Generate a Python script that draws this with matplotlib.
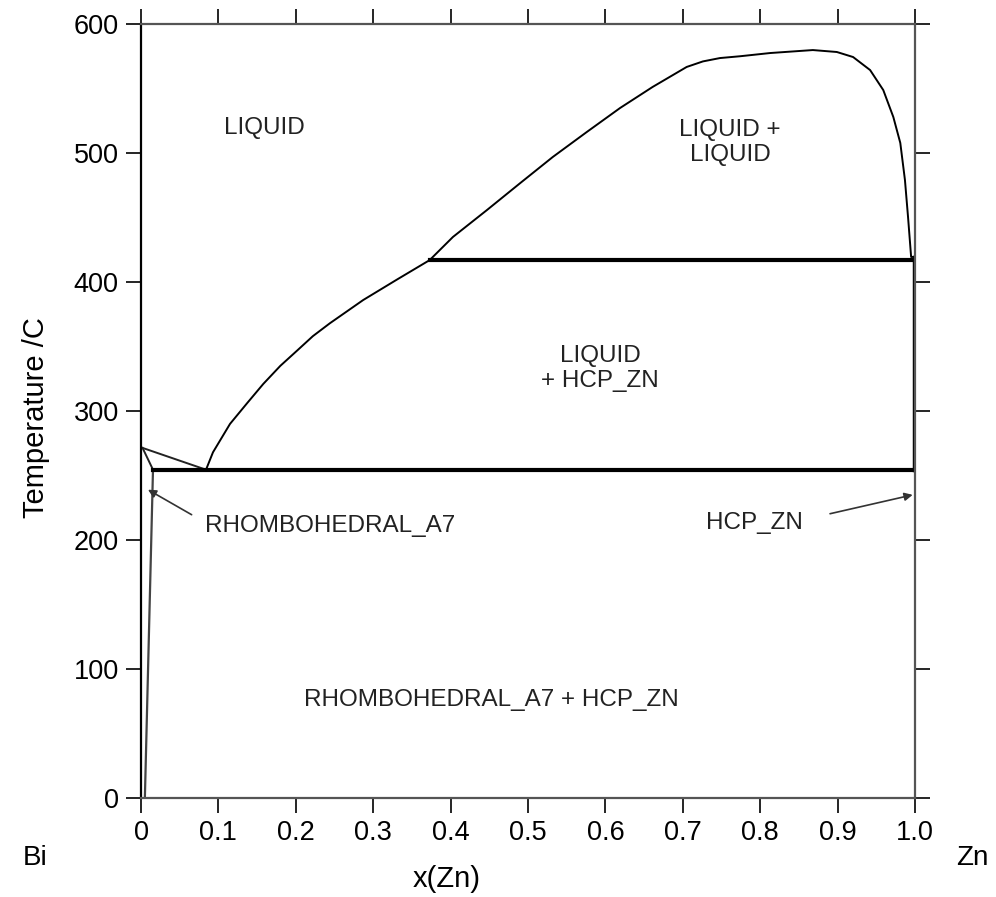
import matplotlib
matplotlib.use("Agg")
import matplotlib.pyplot as plt

plt.rcParams['font.family'] = ['Liberation Sans', 'DejaVu Sans']

# === datos del diagrama Bi-Zn ===
# liquidus del lado Zn (desde el eutectico hasta el monotectico)
liq_x = [0.084, 0.093, 0.115, 0.137, 0.158, 0.180, 0.202, 0.222, 0.244, 0.287, 0.331, 0.373]
liq_T = [254.5, 268, 290, 306, 321, 335, 347, 358, 368, 386, 402, 417]

# laguna de miscibilidad (LIQUID + LIQUID)
gap_x = [0.373, 0.403, 0.447, 0.490, 0.532, 0.576, 0.619, 0.661, 0.705, 0.726, 0.748, 0.774,
         0.813, 0.868, 0.899, 0.920, 0.942, 0.959, 0.972, 0.981, 0.987, 0.991, 0.995, 1.0]
gap_T = [417, 434.9, 455.8, 476.7, 496.9, 516.3, 534.9, 551.2, 566.7, 571, 573.6, 575,
         577.5, 579.8, 578.3, 574.4, 564.3, 548.8, 527.9, 507.8, 479.1, 450.4, 419.4, 419.5]

# lado Bi: liquidus, solidus y solvus
bi_liq_x = [0.002, 0.084]
bi_liq_T = [271.4, 254.5]
bi_sol_x = [0.002, 0.0155]
bi_sol_T = [271.4, 254.5]
bi_solv_x = [0.0155, 0.005]
bi_solv_T = [254.5, 0]

# isotermas invariantes
eut_x = [0.0155, 1.0]
eut_T = [254.5, 254.5]
mono_x = [0.373, 1.0]
mono_T = [417, 417]

# solvus HCP_ZN
zn_solv_x = [0.999, 0.999]
zn_solv_T = [419.5, 254.5]

xticks = [0, 0.1, 0.2, 0.3, 0.4, 0.5, 0.6, 0.7, 0.8, 0.9, 1.0]
xtick_labels = ["0", "0.1", "0.2", "0.3", "0.4", "0.5", "0.6", "0.7", "0.8", "0.9", "1.0"]
yticks = [0, 100, 200, 300, 400, 500, 600]

# === grafico ===
fig = plt.figure(figsize=(9.96, 8.97), dpi=100)
ax = fig.add_axes([141/996, 1 - 798/897, 774/996, 774/897])

ax.plot(liq_x, liq_T, color="black", lw=1.4)
ax.plot(gap_x, gap_T, color="black", lw=1.4)
ax.plot(bi_liq_x, bi_liq_T, color="#222222", lw=1.4)
ax.plot(bi_sol_x, bi_sol_T, color="#222222", lw=1.4)
ax.plot(bi_solv_x, bi_solv_T, color="#444444", lw=1.6)
ax.plot(eut_x, eut_T, color="black", lw=3)
ax.plot(mono_x, mono_T, color="black", lw=3)
ax.plot(zn_solv_x, zn_solv_T, color="black", lw=2.5)

ax.set_xlim(0, 1.0)
ax.set_ylim(0, 600)
ax.set_xticks(xticks)
ax.set_xticklabels(xtick_labels)
ax.set_yticks(yticks)
ax.tick_params(direction="out", length=11, width=1.2, labelsize=19.5,
               top=True, right=True, pad=5)
for s in ax.spines.values():
    s.set_linewidth(1.6)
    s.set_color("#555555")
ax.spines["left"].set_color("black")

ax.set_ylabel("Temperature /C", fontsize=21)
ax.yaxis.set_label_coords(-0.118, 0.491)

# etiquetas de fases
fs = 17.5
ax.text(0.16, 519, "LIQUID", fontsize=fs, ha="center", va="center", color="#222222")
ax.text(0.761, 508, "LIQUID +\nLIQUID", fontsize=fs, ha="center", va="center",
        color="#222222", linespacing=1.15)
ax.text(0.593, 333, "LIQUID\n+ HCP_ZN", fontsize=fs, ha="center", va="center",
        color="#222222", linespacing=1.15)
ax.text(0.453, 76, "RHOMBOHEDRAL_A7 + HCP_ZN", fontsize=fs, ha="center", va="center",
        color="#222222")

ax.annotate("RHOMBOHEDRAL_A7", xy=(0.009, 239), xytext=(0.083, 211),
            fontsize=fs, ha="left", va="center", color="#222222",
            arrowprops=dict(arrowstyle="-|>", color="#333333", lw=1.2,
                            mutation_scale=12, shrinkA=9, shrinkB=0,
                            relpos=(0.0, 0.65)))
ax.annotate("HCP_ZN", xy=(0.997, 235), xytext=(0.73, 213),
            fontsize=fs, ha="left", va="center", color="#222222",
            arrowprops=dict(arrowstyle="-|>", color="#333333", lw=1.2,
                            mutation_scale=12, shrinkA=18, shrinkB=0,
                            relpos=(1.0, 0.65)))

fig.text(447/996, 1 - 879/897, "x(Zn)", fontsize=21, ha="center", va="center")
fig.text(35/996, 1 - 858/897, "Bi", fontsize=20, ha="center", va="center")
fig.text(972/996, 1 - 858/897, "Zn", fontsize=20, ha="center", va="center")

fig.savefig("out.png", dpi=100)
